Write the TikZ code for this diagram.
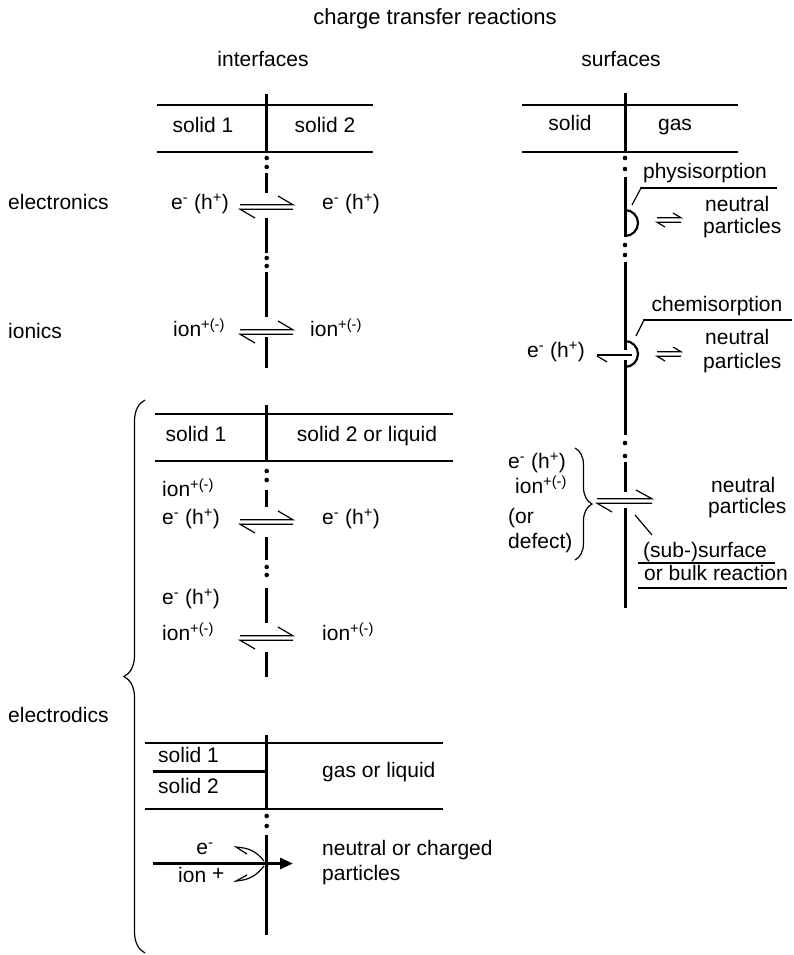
\documentclass[tikz,border=0pt]{standalone}
\usepackage{fontspec}
\setmainfont{Liberation Sans}
\usetikzlibrary{arrows.meta,decorations.pathreplacing}

\begin{document}
\begin{tikzpicture}[x=1pt,y=-1pt]
    \tikzstyle{wall}=[line width=3pt]
    \tikzstyle{border}=[line width=1.8pt]
    \tikzstyle{thin}=[line width=1.2pt]
    \tikzstyle{lbl}=[font=\fontsize{21}{25}\selectfont,inner sep=0pt,anchor=mid west]
    \tikzstyle{ctr}=[lbl,anchor=mid]
    \useasboundingbox (0,0) rectangle (794,955);
    % Headings
    \node[ctr,font=\fontsize{22}{26}\selectfont] (title) at (435,22) {charge transfer reactions};
    \node[ctr] (interf) at (263,64) {interfaces};
    \node[ctr] (surf) at (621,64) {surfaces};
    \node[lbl] (elnics) at (8,207) {electronics};
    \node[lbl] (ionics) at (8,336) {ionics};
    \node[lbl] (elodics) at (8,720) {electrodics};
    % Interfaces: solid 1 | solid 2
    \draw[border] (157,105) -- (373,105);
    \draw[border] (157,152) -- (373,152);
    \node[ctr] (sa) at (203,130) {solid 1};
    \node[ctr] (sb) at (325,130) {solid 2};
    \draw[wall] (266.7,94) -- (266.7,152);
    \fill (266.7,158) circle (2.3);
    \fill (266.7,167) circle (2.3);
    \draw[wall] (266.7,173) -- (266.7,193);
    \draw[wall] (266.7,218) -- (266.7,253);
    \fill (266.7,258) circle (2.3);
    \fill (266.7,266) circle (2.3);
    \draw[wall] (266.7,272) -- (266.7,317);
    \draw[wall] (266.7,337) -- (266.7,368);
    \draw[thin] (240,204.8) -- (293,204.8) -- (278,196);
    \draw[thin] (293,209.2) -- (240,209.2) -- (255,218);
    \draw[thin] (240,329.8) -- (293,329.8) -- (278,321);
    \draw[thin] (293,334.2) -- (240,334.2) -- (255,343);
    \node[lbl] (ea) at (171,207) {e\textsuperscript{-} (h\textsuperscript{+})};
    \node[lbl] (eb) at (322,207) {e\textsuperscript{-} (h\textsuperscript{+})};
    \node[lbl] (ia) at (173,334) {ion\textsuperscript{+(-)}};
    \node[lbl] (ib) at (310,334) {ion\textsuperscript{+(-)}};
    % Interfaces: solid 1 | solid 2 or liquid
    \draw[border] (155,414) -- (453,414);
    \draw[border] (155,461) -- (453,461);
    \node[ctr] (sc) at (196,439) {solid 1};
    \node[ctr] (sd) at (367,439) {solid 2 or liquid};
    \draw[wall] (266.7,405) -- (266.7,461);
    \fill (266.7,471) circle (2.3);
    \fill (266.7,480) circle (2.3);
    \draw[wall] (266.7,490) -- (266.7,507);
    \draw[wall] (266.7,537) -- (266.7,560);
    \fill (266.7,567) circle (2.3);
    \fill (266.7,575) circle (2.3);
    \draw[wall] (266.7,588) -- (266.7,623);
    \draw[wall] (266.7,652) -- (266.7,677);
    \draw[thin] (240,519.8) -- (293,519.8) -- (278,511);
    \draw[thin] (293,524.2) -- (240,524.2) -- (255,533);
    \draw[thin] (240,635.8) -- (293,635.8) -- (278,627);
    \draw[thin] (293,640.2) -- (240,640.2) -- (255,649);
    \node[lbl] (ic) at (162,494) {ion\textsuperscript{+(-)}};
    \node[lbl] (ec) at (162,522) {e\textsuperscript{-} (h\textsuperscript{+})};
    \node[lbl] (ed) at (322,522) {e\textsuperscript{-} (h\textsuperscript{+})};
    \node[lbl] (ee) at (162,602) {e\textsuperscript{-} (h\textsuperscript{+})};
    \node[lbl] (ie) at (162,638) {ion\textsuperscript{+(-)}};
    \node[lbl] (id) at (322,638) {ion\textsuperscript{+(-)}};
    % Interfaces: solid 1 / solid 2 | gas or liquid
    \draw[border] (145,743) -- (443,743);
    \draw[border] (145,809) -- (443,809);
    \draw[wall] (153,771.7) -- (266.7,771.7);
    \node[lbl] (se) at (158,760) {solid 1};
    \node[lbl] (sf) at (158,791) {solid 2};
    \node[lbl] (gl) at (322,775) {gas or liquid};
    \draw[wall] (266.7,735) -- (266.7,809);
    \fill (266.7,816) circle (2.3);
    \fill (266.7,826) circle (2.3);
    \draw[wall] (266.7,835) -- (266.7,935);
    \draw[wall,-{Triangle[length=13pt,width=11pt]}] (153,863.5) -- (293,863.5);
    \draw[thin] (264,861) .. controls (256,851) and (249,848) .. (236,847) -- (247,854);
    \draw[thin] (264,866) .. controls (256,876) and (249,880) .. (236,881) -- (247,875);
    \node[ctr] (ef) at (205,852) {e\textsuperscript{-}};
    \node[lbl] (ig) at (178,880) {ion~\raisebox{0.2ex}{+}};
    \node[lbl] (nc) at (322,853) {neutral or charged};
    \node[lbl] (pc) at (322,878) {particles};
    \draw[thin,decorate,decoration={brace,amplitude=21pt}] (145,953) -- (145,400);
    % Surfaces: solid | gas
    \draw[border] (522,105) -- (738,105);
    \draw[border] (522,152) -- (738,152);
    \node[ctr] (sg) at (570,128) {solid};
    \node[ctr] (gs) at (675,128) {gas};
    \draw[wall] (625,93) -- (625,152);
    \fill (625,158) circle (2.3);
    \fill (625,169) circle (2.3);
    \draw[wall] (625,177) -- (625,237);
    \draw[line width=2.2pt] (625,210) arc[start angle=-90,end angle=90,radius=13];
    \fill (625,245) circle (2.3);
    \fill (625,255) circle (2.3);
    \draw[wall] (625,262) -- (625,350);
    \draw[wall] (625,360) -- (625,435);
    \draw[line width=2.2pt] (625,341) arc[start angle=-90,end angle=90,radius=13];
    % physisorption
    \node[ctr] (phys) at (705,176) {physisorption};
    \draw[thin] (640,188) -- (777,188);
    \draw[thin] (641,188) -- (632,205);
    \draw[thin] (657,217.8) -- (681,217.8) -- (673,213);
    \draw[thin] (681,222.2) -- (657,222.2) -- (665,227);
    \node[lbl] (na) at (705,209) {neutral};
    \node[lbl] (pa) at (703,231) {particles};
    % chemisorption
    \node[ctr] (chem) at (717,309) {chemisorption};
    \draw[thin] (643,320) -- (792,320);
    \draw[thin] (644,320) -- (636,336);
    \draw[line width=2.4pt] (632,355) -- (597,355);
    \draw[thin] (597,356) -- (607,362);
    \draw[thin] (657,351.8) -- (681,351.8) -- (673,347);
    \draw[thin] (681,356.2) -- (657,356.2) -- (665,361);
    \node[lbl] (eg) at (527,355) {e\textsuperscript{-} (h\textsuperscript{+})};
    \node[lbl] (nb) at (705,342) {neutral};
    \node[lbl] (pb) at (703,366) {particles};
    % (sub-)surface or bulk reaction
    \fill (625,443) circle (2.3);
    \fill (625,456) circle (2.3);
    \draw[wall] (625,462) -- (625,492);
    \draw[wall] (625,508) -- (625,608);
    \draw[thin] (597,498.8) -- (652,498.8) -- (636,490);
    \draw[thin] (652,503.2) -- (597,503.2) -- (612,512);
    \draw[thin] (635,515) -- (652,535);
    \node[lbl] (eh) at (508,466) {e\textsuperscript{-} (h\textsuperscript{+})};
    \node[lbl] (ih) at (515,491) {ion\textsuperscript{+(-)}};
    \node[lbl] (orr) at (508,521) {(or};
    \node[lbl] (dft) at (508,546) {defect)};
    \draw[thin,decorate,decoration={brace,amplitude=17pt}] (575,448) -- (575,560);
    \node[lbl] (nd) at (711,490) {neutral};
    \node[lbl] (pd) at (708,511) {particles};
    \node[lbl] (sub) at (643,555) {(sub-)surface};
    \draw[thin] (638,563) -- (775,563);
    \node[lbl] (bulk) at (644,578) {or bulk reaction};
    \draw[thin] (638,588) -- (787,588);
\end{tikzpicture}
\end{document}
